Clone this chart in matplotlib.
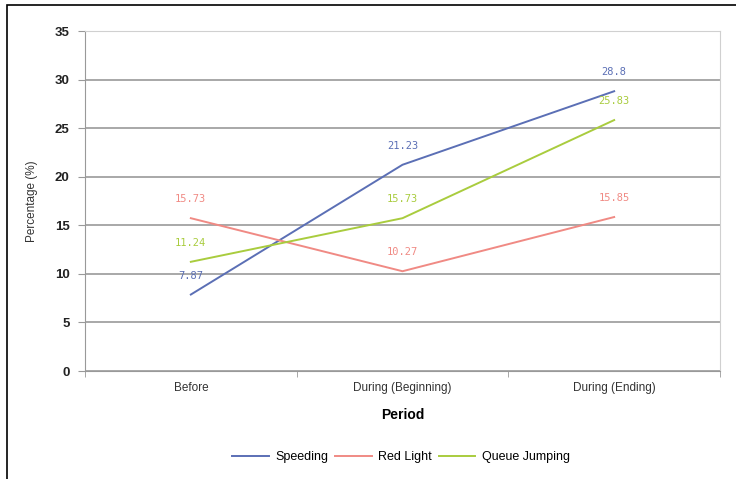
import matplotlib.pyplot as plt
from matplotlib.patches import Rectangle

plt.rcParams['font.family'] = ['Liberation Sans', 'DejaVu Sans']

periods = ['Before', 'During (Beginning)', 'During (Ending)']
speeding = [7.87, 21.23, 28.8]
red_light = [15.73, 10.27, 15.85]
queue_jumping = [11.24, 15.73, 25.83]

series = [
    ('Speeding', speeding, '#5b6fb5'),
    ('Red Light', red_light, '#f08a84'),
    ('Queue Jumping', queue_jumping, '#a9cc3e'),
]

fig = plt.figure(figsize=(7.36, 4.79), dpi=100)
ax = fig.add_axes([85 / 736, 1 - 371 / 479, 635 / 736, 340 / 479])

x = list(range(len(periods)))
for name, vals, col in series:
    ax.plot(x, vals, color=col, lw=1.4, label=name)
    for xi, v in zip(x, vals):
        ax.annotate(f'{v:g}', (xi, v), xytext=(0, 10), textcoords='offset points',
                    ha='center', va='bottom', fontsize=7.5, color=col,
                    family='DejaVu Sans Mono')

ax.set_xlim(-0.5, 2.5)
ax.set_ylim(0, 35)
ax.set_yticks(range(0, 36, 5))
ax.set_xticks(x)
ax.set_xticklabels(periods, fontsize=8.5, color='#333333')
ax.set_xticks([-0.5, 0.5, 1.5, 2.5], minor=True)
ax.tick_params(axis='x', which='major', length=0, pad=8)
ax.tick_params(axis='x', which='minor', length=4, color='#999999', direction='out')
ax.tick_params(axis='y', length=5, color='#999999', labelsize=9.5, pad=6)
for lab in ax.get_yticklabels():
    lab.set_fontweight('bold')
    lab.set_color('#222222')

ax.grid(axis='y', color='#9a9a9a', lw=1.2)
ax.set_axisbelow(True)
for side in ['left', 'bottom']:
    ax.spines[side].set_color('#999999')
for side in ['top', 'right']:
    ax.spines[side].set_color('#d0d0d0')

ax.set_ylabel('Percentage (%)', fontsize=8.5, color='#333333', labelpad=12)
ax.set_xlabel('Period', fontsize=10, fontweight='bold', labelpad=10)

fig.legend(loc='center', bbox_to_anchor=(0.545, 1 - 457 / 479), ncol=3,
           frameon=False, fontsize=9, handlelength=2.9, columnspacing=0.6,
           handletextpad=0.5)

# outer frame around the chart
fig.patches.append(Rectangle((7 / 736, -0.1), 1.2, 1 - 5 / 479 + 0.1,
                             transform=fig.transFigure, fill=False,
                             edgecolor='black', lw=1.2))

fig.savefig('out.png', dpi=100)
